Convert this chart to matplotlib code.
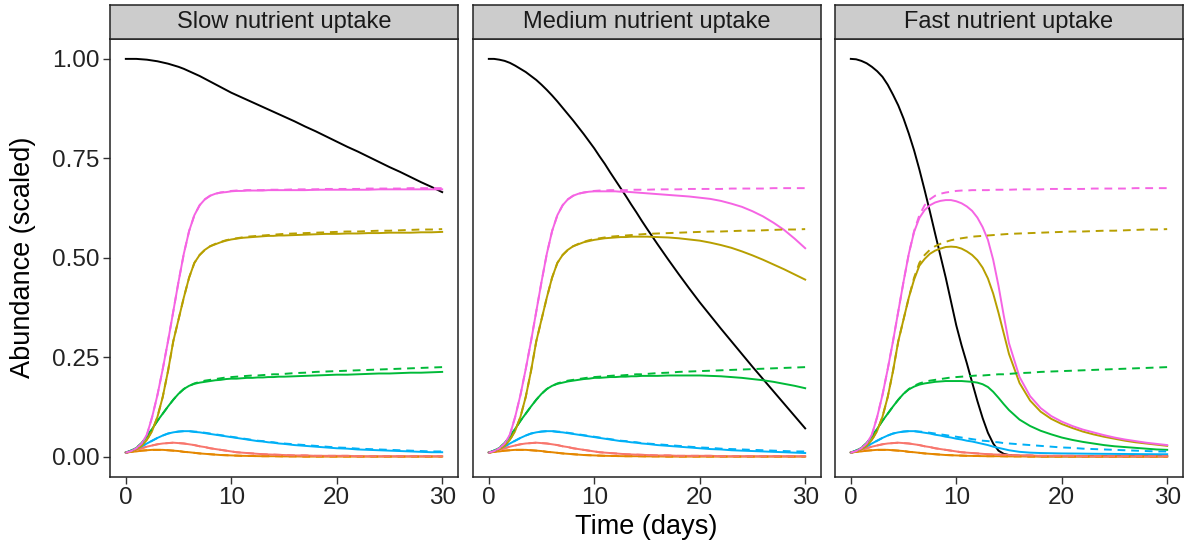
import matplotlib.pyplot as plt

plt.rcParams['font.family'] = ['Liberation Sans', 'DejaVu Sans']

# time grid (days): half-day steps up to day 15, then daily
days = [i * 0.5 for i in range(31)] + list(range(16, 31))

panel_titles = ['Slow nutrient uptake', 'Medium nutrient uptake', 'Fast nutrient uptake']
x_ticks = [0, 10, 20, 30]
y_ticks = [0.0, 0.25, 0.5, 0.75, 1.0]
y_tick_labels = ['0.00', '0.25', '0.50', '0.75', '1.00']

# nutrient (black) in each panel
nutrient_slow = [1.0, 1.0, 1.0, 0.999, 0.998, 0.996, 0.994, 0.991, 0.988, 0.984, 0.98,
                 0.975, 0.969, 0.963, 0.957, 0.95, 0.943, 0.936, 0.929, 0.922, 0.915,
                 0.909, 0.903, 0.897, 0.891, 0.885, 0.879, 0.873, 0.867, 0.861, 0.855,
                 0.843, 0.830, 0.818, 0.805, 0.792, 0.779, 0.767, 0.754, 0.741, 0.728,
                 0.716, 0.703, 0.69, 0.678, 0.665]
nutrient_medium = [1.0, 1.0, 0.998, 0.995, 0.99, 0.983, 0.975, 0.967, 0.957, 0.947, 0.935,
                   0.922, 0.908, 0.893, 0.877, 0.861, 0.845, 0.828, 0.811, 0.793, 0.775,
                   0.755, 0.736, 0.715, 0.695, 0.675, 0.655, 0.634, 0.614, 0.593, 0.573,
                   0.534, 0.496, 0.459, 0.423, 0.388, 0.355, 0.322, 0.29, 0.258, 0.226,
                   0.195, 0.164, 0.133, 0.102, 0.071]
nutrient_fast = [1.0, 0.999, 0.995, 0.989, 0.98, 0.969, 0.955, 0.935, 0.91, 0.883, 0.85,
                 0.812, 0.77, 0.722, 0.67, 0.616, 0.56, 0.505, 0.45, 0.39, 0.33,
                 0.28, 0.235, 0.187, 0.14, 0.097, 0.06, 0.033, 0.015, 0.007, 0.004,
                 0.002, 0.002, 0.001, 0.001, 0.001, 0.001, 0.001, 0.001, 0.001, 0.001,
                 0.001, 0.001, 0.001, 0.001, 0.001]

# reference runs (dashed), same in every panel
ref_pink = [0.01, 0.014, 0.021, 0.033, 0.055, 0.1, 0.155, 0.22, 0.29, 0.365, 0.44,
            0.51, 0.567, 0.607, 0.632, 0.647, 0.656, 0.661, 0.664, 0.666, 0.668,
            0.669, 0.669, 0.67, 0.67, 0.67, 0.67, 0.671, 0.671, 0.671, 0.671,
            0.672, 0.672, 0.672, 0.673, 0.673, 0.673, 0.673, 0.674, 0.674, 0.674,
            0.674, 0.675, 0.675, 0.675, 0.675]
ref_olive = [0.01, 0.013, 0.018, 0.027, 0.042, 0.065, 0.1, 0.15, 0.215, 0.29, 0.345,
             0.4, 0.45, 0.487, 0.507, 0.52, 0.529, 0.535, 0.54, 0.544, 0.547,
             0.549, 0.551, 0.553, 0.554, 0.555, 0.556, 0.557, 0.558, 0.559, 0.56,
             0.561, 0.562, 0.563, 0.564, 0.565, 0.566, 0.566, 0.567, 0.568, 0.568,
             0.569, 0.57, 0.571, 0.571, 0.572]
ref_green = [0.01, 0.015, 0.022, 0.034, 0.05, 0.07, 0.09, 0.108, 0.126, 0.143, 0.158,
             0.17, 0.178, 0.184, 0.188, 0.191, 0.193, 0.195, 0.197, 0.199, 0.2,
             0.201, 0.202, 0.203, 0.204, 0.204, 0.205, 0.206, 0.207, 0.207, 0.208,
             0.21, 0.211, 0.213, 0.214, 0.215, 0.216, 0.217, 0.218, 0.219, 0.22,
             0.221, 0.222, 0.223, 0.224, 0.225]
ref_blue = [0.01, 0.015, 0.02, 0.026, 0.033, 0.04, 0.047, 0.053, 0.058, 0.061, 0.063,
            0.064, 0.064, 0.063, 0.062, 0.06, 0.058, 0.056, 0.054, 0.052, 0.05,
            0.048, 0.046, 0.044, 0.042, 0.04, 0.039, 0.037, 0.036, 0.034, 0.033,
            0.031, 0.029, 0.027, 0.025, 0.023, 0.022, 0.02, 0.019, 0.018, 0.017,
            0.016, 0.015, 0.014, 0.013, 0.013]
ref_salmon = [0.01, 0.014, 0.017, 0.021, 0.025, 0.028, 0.031, 0.033, 0.034, 0.035, 0.034,
              0.033, 0.031, 0.029, 0.026, 0.024, 0.021, 0.019, 0.017, 0.015, 0.013,
              0.011, 0.01, 0.009, 0.008, 0.007, 0.006, 0.0055, 0.005, 0.0045, 0.004,
              0.003, 0.003, 0.002, 0.002, 0.002, 0.002, 0.001, 0.001, 0.001, 0.001,
              0.001, 0.001, 0.001, 0.001, 0.001]
ref_orange = [0.01, 0.012, 0.013, 0.015, 0.016, 0.017, 0.017, 0.017, 0.016, 0.015, 0.014,
              0.012, 0.011, 0.0095, 0.008, 0.007, 0.006, 0.005, 0.004, 0.0035, 0.003,
              0.0025, 0.002, 0.0018, 0.0015, 0.0012, 0.001, 0.001, 0.001, 0.0008, 0.0005,
              0.0005, 0.0, 0.0, 0.0, 0.0, 0.0, 0.0, 0.0, 0.0, 0.0,
              0.0, 0.0, 0.0, 0.0, 0.0]

# slow uptake (solid)
slow_pink = [0.01, 0.014, 0.021, 0.033, 0.055, 0.1, 0.155, 0.22, 0.29, 0.365, 0.44,
             0.51, 0.567, 0.607, 0.632, 0.647, 0.656, 0.661, 0.664, 0.665, 0.667,
             0.668, 0.668, 0.669, 0.669, 0.669, 0.669, 0.67, 0.67, 0.67, 0.67,
             0.67, 0.67, 0.671, 0.671, 0.671, 0.671, 0.671, 0.671, 0.672, 0.672,
             0.672, 0.672, 0.672, 0.672, 0.672]
slow_olive = [0.01, 0.013, 0.018, 0.027, 0.042, 0.065, 0.1, 0.15, 0.215, 0.29, 0.345,
              0.4, 0.45, 0.487, 0.507, 0.52, 0.529, 0.534, 0.539, 0.543, 0.546,
              0.548, 0.55, 0.551, 0.552, 0.553, 0.554, 0.555, 0.555, 0.556, 0.556,
              0.557, 0.558, 0.559, 0.56, 0.56, 0.561, 0.561, 0.562, 0.562, 0.563,
              0.563, 0.563, 0.564, 0.564, 0.565]
slow_green = [0.01, 0.015, 0.022, 0.034, 0.05, 0.07, 0.09, 0.108, 0.126, 0.143, 0.158,
              0.17, 0.178, 0.183, 0.186, 0.188, 0.19, 0.192, 0.193, 0.195, 0.196,
              0.196, 0.197, 0.198, 0.198, 0.199, 0.199, 0.2, 0.2, 0.201, 0.201,
              0.202, 0.203, 0.204, 0.205, 0.206, 0.206, 0.207, 0.208, 0.209, 0.209,
              0.21, 0.211, 0.211, 0.212, 0.213]
slow_blue = [0.01, 0.015, 0.02, 0.026, 0.033, 0.04, 0.047, 0.053, 0.058, 0.061, 0.063,
             0.064, 0.064, 0.062, 0.061, 0.059, 0.057, 0.055, 0.053, 0.051, 0.049,
             0.047, 0.045, 0.043, 0.041, 0.039, 0.038, 0.036, 0.035, 0.033, 0.032,
             0.029, 0.027, 0.025, 0.023, 0.021, 0.02, 0.018, 0.017, 0.016, 0.015,
             0.014, 0.013, 0.012, 0.011, 0.011]

# medium uptake (solid)
medium_pink = [0.01, 0.014, 0.021, 0.033, 0.055, 0.1, 0.155, 0.22, 0.29, 0.365, 0.44,
               0.51, 0.567, 0.607, 0.632, 0.647, 0.656, 0.661, 0.664, 0.666, 0.667,
               0.667, 0.667, 0.667, 0.667, 0.666, 0.666, 0.665, 0.664, 0.663, 0.662,
               0.66, 0.658, 0.656, 0.654, 0.651, 0.648, 0.643, 0.636, 0.628, 0.617,
               0.604, 0.588, 0.57, 0.548, 0.524]
medium_olive = [0.01, 0.013, 0.018, 0.027, 0.042, 0.065, 0.1, 0.15, 0.215, 0.29, 0.345,
                0.4, 0.45, 0.487, 0.507, 0.52, 0.529, 0.534, 0.539, 0.542, 0.545,
                0.547, 0.549, 0.55, 0.551, 0.552, 0.552, 0.553, 0.553, 0.553, 0.553,
                0.552, 0.551, 0.549, 0.546, 0.543, 0.538, 0.532, 0.525, 0.516, 0.506,
                0.495, 0.483, 0.471, 0.458, 0.445]
medium_green = [0.01, 0.015, 0.022, 0.034, 0.05, 0.07, 0.09, 0.108, 0.126, 0.143, 0.158,
                0.17, 0.178, 0.183, 0.186, 0.189, 0.191, 0.193, 0.195, 0.196, 0.198,
                0.198, 0.199, 0.2, 0.2, 0.201, 0.201, 0.202, 0.202, 0.203, 0.203,
                0.203, 0.204, 0.204, 0.204, 0.204, 0.203, 0.202, 0.2, 0.198, 0.195,
                0.192, 0.188, 0.183, 0.178, 0.172]
medium_blue = [0.01, 0.015, 0.02, 0.026, 0.033, 0.04, 0.047, 0.053, 0.058, 0.061, 0.063,
               0.064, 0.064, 0.062, 0.061, 0.059, 0.057, 0.055, 0.053, 0.051, 0.049,
               0.047, 0.045, 0.043, 0.041, 0.039, 0.038, 0.036, 0.035, 0.033, 0.032,
               0.029, 0.027, 0.025, 0.023, 0.021, 0.019, 0.018, 0.016, 0.015, 0.014,
               0.013, 0.012, 0.011, 0.01, 0.009]

# fast uptake (solid)
fast_pink = [0.01, 0.014, 0.021, 0.033, 0.055, 0.1, 0.155, 0.22, 0.29, 0.365, 0.44,
             0.51, 0.565, 0.6, 0.62, 0.632, 0.639, 0.643, 0.645, 0.645, 0.642,
             0.637, 0.629, 0.618, 0.601, 0.577, 0.545, 0.495, 0.43, 0.355, 0.285,
             0.2, 0.152, 0.122, 0.102, 0.088, 0.077, 0.068, 0.061, 0.054, 0.048,
             0.043, 0.039, 0.035, 0.032, 0.029]
fast_olive = [0.01, 0.013, 0.018, 0.027, 0.042, 0.065, 0.1, 0.15, 0.215, 0.29, 0.345,
              0.4, 0.445, 0.48, 0.497, 0.51, 0.518, 0.523, 0.527, 0.528, 0.527,
              0.523, 0.516, 0.507, 0.494, 0.475, 0.448, 0.41, 0.362, 0.31, 0.258,
              0.185, 0.141, 0.113, 0.095, 0.082, 0.072, 0.063, 0.056, 0.05, 0.045,
              0.04, 0.036, 0.033, 0.03, 0.027]
fast_green = [0.01, 0.015, 0.022, 0.034, 0.05, 0.07, 0.09, 0.108, 0.126, 0.143, 0.158,
              0.169, 0.176, 0.181, 0.184, 0.186, 0.188, 0.189, 0.19, 0.19, 0.19,
              0.19, 0.189, 0.188, 0.186, 0.182, 0.175, 0.163, 0.148, 0.132, 0.117,
              0.093, 0.077, 0.065, 0.056, 0.048, 0.042, 0.037, 0.033, 0.029, 0.026,
              0.024, 0.022, 0.02, 0.018, 0.017]
fast_blue = [0.01, 0.015, 0.02, 0.026, 0.033, 0.04, 0.047, 0.053, 0.058, 0.061, 0.063,
             0.064, 0.064, 0.062, 0.06, 0.058, 0.055, 0.053, 0.05, 0.048, 0.045,
             0.043, 0.04, 0.038, 0.035, 0.032, 0.029, 0.025, 0.022, 0.019, 0.016,
             0.012, 0.01, 0.009, 0.0085, 0.008, 0.0078, 0.0075, 0.0072, 0.007, 0.0068,
             0.0066, 0.0064, 0.0062, 0.006, 0.006]

colors = {'pink': '#F564E3', 'olive': '#B79F00', 'green': '#00BA38',
          'blue': '#00B0F6', 'salmon': '#F8766D', 'orange': '#E58700'}

reference = [('orange', ref_orange), ('salmon', ref_salmon), ('blue', ref_blue),
             ('green', ref_green), ('olive', ref_olive), ('pink', ref_pink)]

panels = [
    (nutrient_slow, [('orange', ref_orange), ('salmon', ref_salmon), ('blue', slow_blue),
                     ('green', slow_green), ('olive', slow_olive), ('pink', slow_pink)]),
    (nutrient_medium, [('orange', ref_orange), ('salmon', ref_salmon), ('blue', medium_blue),
                       ('green', medium_green), ('olive', medium_olive), ('pink', medium_pink)]),
    (nutrient_fast, [('orange', ref_orange), ('salmon', ref_salmon), ('blue', fast_blue),
                     ('green', fast_green), ('olive', fast_olive), ('pink', fast_pink)]),
]

W, H = 1190, 546
fig = plt.figure(figsize=(W / 100, H / 100), dpi=100)

lefts = [110, 473, 835]
panel_w = 348
top_px, bottom_px = 39, 476.5
strip_top = 5

for i, (nutrient, solids) in enumerate(panels):
    ax = fig.add_axes([lefts[i] / W, 1 - bottom_px / H, panel_w / W, (bottom_px - top_px) / H])
    ax.plot(days, nutrient, color='black', lw=1.4)
    for name, vals in solids:
        ax.plot(days, vals, color=colors[name], lw=1.4)
    for name, vals in reference:
        ax.plot(days, vals, color=colors[name], lw=1.4, linestyle=(0, (4, 3)))

    ax.set_xlim(-1.5, 31.5)
    ax.set_ylim(-0.05, 1.05)
    ax.set_xticks(x_ticks)
    ax.tick_params(axis='both', labelsize=17.5, length=5, width=1.0, color='#333333',
                   labelcolor='#222222', pad=2.5)
    if i == 0:
        ax.set_yticks(y_ticks)
        ax.set_yticklabels(y_tick_labels)
    else:
        ax.set_yticks([])
    for s in ax.spines.values():
        s.set_color('#222222')
        s.set_linewidth(1.1)

    # facet strip
    sax = fig.add_axes([lefts[i] / W, 1 - top_px / H, panel_w / W, (top_px - strip_top) / H])
    sax.set_facecolor('#CCCCCC')
    sax.set_xticks([])
    sax.set_yticks([])
    for s in sax.spines.values():
        s.set_color('#222222')
        s.set_linewidth(1.1)
    sax.text(0.5, 0.5, panel_titles[i], ha='center', va='center', fontsize=17,
             color='#1a1a1a', transform=sax.transAxes)

fig.text(646 / W, 1 - 527 / H, 'Time (days)', ha='center', va='center', fontsize=19.5)
fig.text(23 / W, 1 - 257.5 / H, 'Abundance (scaled)', ha='center', va='center',
         rotation=90, fontsize=19.5)

fig.savefig('out.png', dpi=100)
